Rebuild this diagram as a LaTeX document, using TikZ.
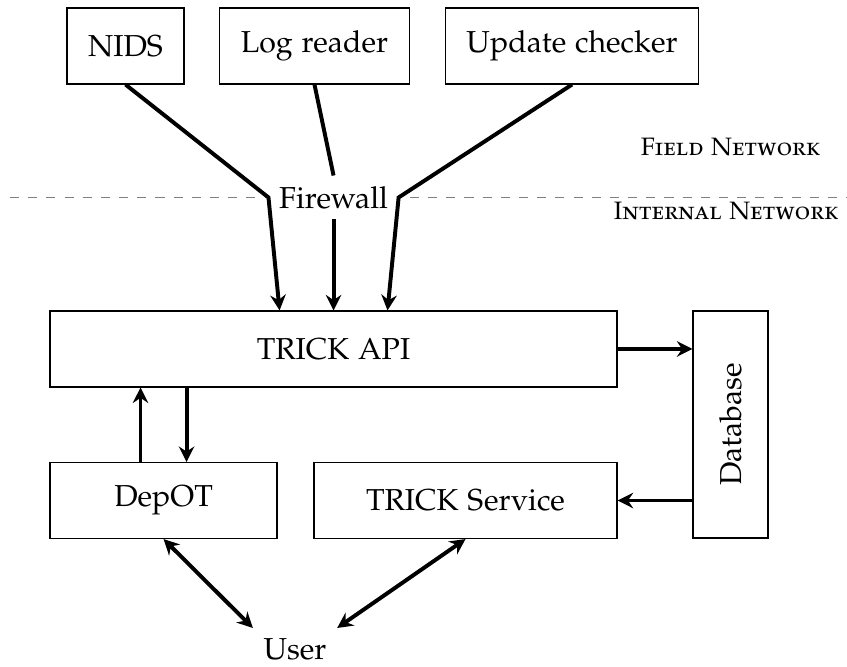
\documentclass[tikz,border=0pt]{standalone}
\usepackage[T1]{fontenc}
\usepackage[sc]{mathpazo}
\usepackage{tikz}
\usetikzlibrary{arrows.meta}

\begin{document}
\begin{tikzpicture}[box/.style={draw, minimum height=0.88cm, inner xsep=0.245cm}, link/.style={line width=1.3pt}, zone/.style={font=\fontsize{8.3}{10}\selectfont\scshape}, >={Stealth[length=1.8mm, width=1.8mm, inset=0.6mm]}]
	\useasboundingbox (0,0) rectangle (9.825,-7.726);
	% sources in the field
	\node[box] (nids) at (1.456,-0.534) {NIDS};
	\node[box] (logr) at (3.648,-0.534) {Log reader};
	\node[box] (upd) at (6.635,-0.534) {Update checker};
	% network border
	\draw[gray, dashed] (0.116,-2.291) -- (9.825,-2.291);
	\node[fill=white] (fw) at (3.869,-2.291) {Firewall};
	\node[zone] (field) at (8.474,-1.711) {Field Network};
	\node[zone] (intern) at (8.422,-2.453) {Internal Network};
	% internal side
	\node[box, minimum width=6.577cm] (api) at (3.869,-4.048) {TRICK API};
	\node[box, minimum width=0.87cm, minimum height=2.633cm] (db) at (8.474,-4.924) {};
	\node[rotate=90] at (db.center) {Database};
	\node[box, minimum width=2.633cm] (depot) at (1.897,-5.806) {DepOT};
	\node[box, minimum width=3.515cm] (srv) at (5.4,-5.806) {TRICK Service};
	\node (user) at (3.422,-7.534) {User};
	% connectors
	\draw[link, ->] (nids.south) -- (fw.west) -- ([xshift=-0.626cm]api.north);
	\draw[link] (logr.south) -- (fw.north);
	\draw[link, ->] (fw.south) -- (api.north);
	\draw[link, ->] (upd.south) -- (fw.east) -- ([xshift=0.626cm]api.north);
	\draw[link, ->] (api.east) -- (api.east -| db.west);
	\draw[link, ->] (db.west |- srv.east) -- (srv.east);
	\draw[link, ->] ([xshift=-0.267cm]depot.north) -- ([xshift=-0.267cm]depot.north |- api.south);
	\draw[link, ->] ([xshift=0.267cm]depot.north |- api.south) -- ([xshift=0.267cm]depot.north);
	\draw[link, <->] (depot.south) -- (user.north west);
	\draw[link, <->] (srv.south) -- (user.north east);
\end{tikzpicture}
\end{document}
